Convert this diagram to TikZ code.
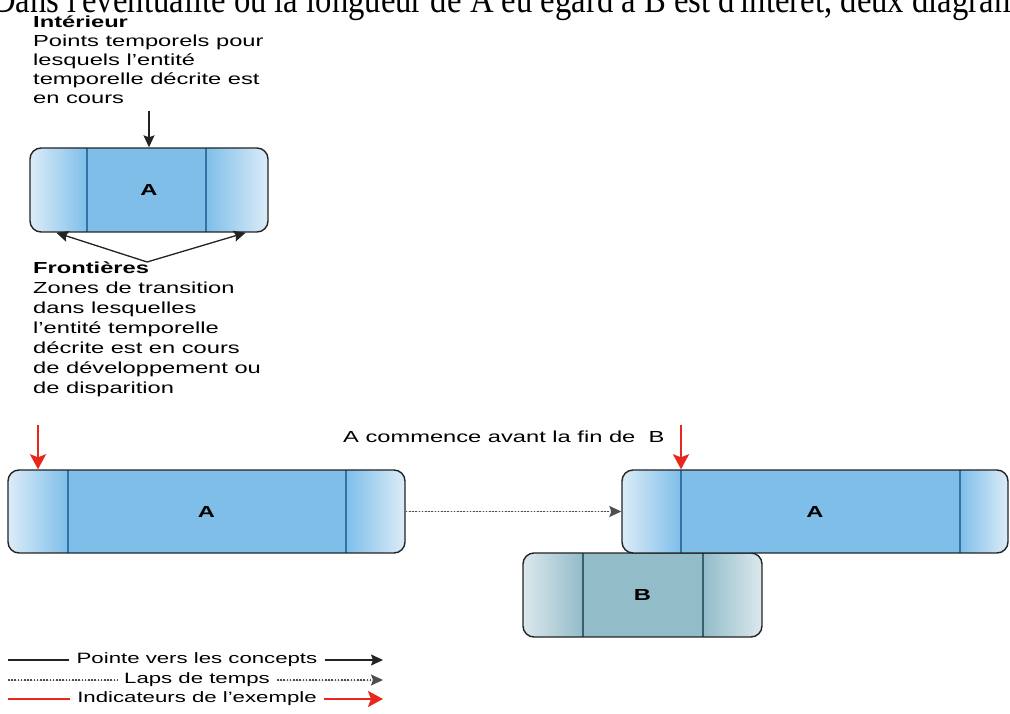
\documentclass[tikz,border=0pt]{standalone}
\usepackage{fontspec}
\setmainfont{Liberation Serif}
\setsansfont{Liberation Sans}[FakeStretch=1.48]
\newfontfamily\introfont{Liberation Serif}[FakeStretch=0.86]
\usepackage{tikz}
\usetikzlibrary{arrows.meta, positioning, calc}
\definecolor{Amid}{RGB}{126,190,233}
\definecolor{Alight}{RGB}{220,236,248}
\definecolor{Aline}{RGB}{50,115,165}
\definecolor{Bmid}{RGB}{146,188,200}
\definecolor{Blight}{RGB}{220,232,237}
\definecolor{Bline}{RGB}{55,95,108}
\definecolor{outline}{RGB}{35,35,35}
\definecolor{marker}{RGB}{232,40,30}
\tikzset{span/.style n args={3}{rectangle,draw=outline,line width=1.4pt,rounded corners=11pt,inner sep=0pt,
           font=\sffamily\bfseries\fontsize{16}{16}\selectfont,
           path picture={
             \fill[#1mid,sharp corners] (path picture bounding box.south west) rectangle (path picture bounding box.north east);
             \shade[left color=#1light,right color=#1mid,sharp corners] (path picture bounding box.south west) rectangle ([xshift=#2]path picture bounding box.north west);
             \shade[left color=#1mid,right color=#1light,sharp corners] ([xshift=-#3]path picture bounding box.south east) rectangle (path picture bounding box.north east);
             \draw[#1line,line width=1.1pt,sharp corners] ([xshift=#2]path picture bounding box.south west) -- ([xshift=#2]path picture bounding box.north west)
                  ([xshift=-#3]path picture bounding box.south east) -- ([xshift=-#3]path picture bounding box.north east);}},
         note/.style={align=left,inner sep=0pt,font=\sffamily\fontsize{16}{19}\selectfont},
         legend/.style={inner sep=7pt,font=\sffamily\fontsize{15}{15}\selectfont},
         arrow/.style={-{Stealth[length=12pt,width=11pt,inset=2pt]},line width=1.3pt,draw=outline,fill=outline},
         lapse/.style={-{Stealth[length=12pt,width=11pt,inset=2pt]},dash pattern=on 1.6pt off 1.6pt,line width=1.3pt,draw=outline!80,fill=outline},
         marker/.style={-{Stealth[length=15pt,width=16pt,inset=3pt]},line width=2.6pt,draw=marker,fill=marker}}
\begin{document}
\begin{tikzpicture}[x=1pt,y=1pt]
    \useasboundingbox (0,0) rectangle (1010,713);
    \clip (0,0) rectangle (1010,713);
    \node (intro) [anchor=base west,inner sep=0pt,font=\introfont\fontsize{38}{38}\selectfont] at (-8,700)
         {Dans l'éventualité où la longueur de A eu égard à B est d'intérêt, deux diagrammes};
    % definitions
    \node (interior) [note,anchor=north west] at (33,697)
         {\textbf{Intérieur}\\Points temporels pour\\lesquels l'entité\\temporelle décrite est\\en cours};
    \node (a1) [span={A}{57}{62},minimum width=238pt,minimum height=84pt] at (149,523) {A};
    \node (frontier) [note,anchor=north west,font=\sffamily\fontsize{16}{20}\selectfont] at (33,451)
         {\textbf{Frontières}\\Zones de transition\\dans lesquelles\\l'entité temporelle\\décrite est en cours\\de développement ou\\de disparition};
    \draw[arrow,shorten <=7pt] (interior.south -| a1.north) -- (a1.north);
    \draw[arrow] (frontier.north) -- ([xshift=27pt]a1.south west);
    \draw[arrow] (frontier.north) -- ([xshift=-23pt]a1.south east);
    % example
    \node (a2) [span={A}{60}{59},minimum width=397pt,minimum height=83pt] at (206.5,201.5) {A};
    \node (b) [span={B}{60}{59},minimum width=239pt,minimum height=84pt] at (642.5,118) {B};
    \node (a3) [span={A}{59}{48},minimum width=386pt,minimum height=83pt] at (815,201.5) {A};
    \node (caption) [anchor=base west,inner sep=0pt,font=\sffamily\fontsize{16}{16}\selectfont] at (343,270)
         {A commence avant la fin de\ \ B};
    \draw[lapse] (a2.east) -- (a3.west);
    \coordinate (mk1) at (38,288);
    \coordinate (mk2) at (681,288);
    \draw[marker] (mk1) -- (mk1 |- a2.north);
    \draw[marker] (mk2) -- (mk2 |- a3.north);
    % legend
    \foreach \txt/\sty/\y [count=\i] in {Pointe vers les concepts/arrow/53,Laps de temps/lapse/33,Indicateurs de l'exemple/marker/14} {
      \node (leg\i) [legend] at (197,\y) {\txt};
      \coordinate (ks\i) at (8,\y);
      \coordinate (ke\i) at (383,\y);
      \draw[\sty,-] (ks\i) -- (leg\i.west);
      \draw[\sty] (leg\i.east) -- (ke\i);
    }
\end{tikzpicture}
\end{document}
